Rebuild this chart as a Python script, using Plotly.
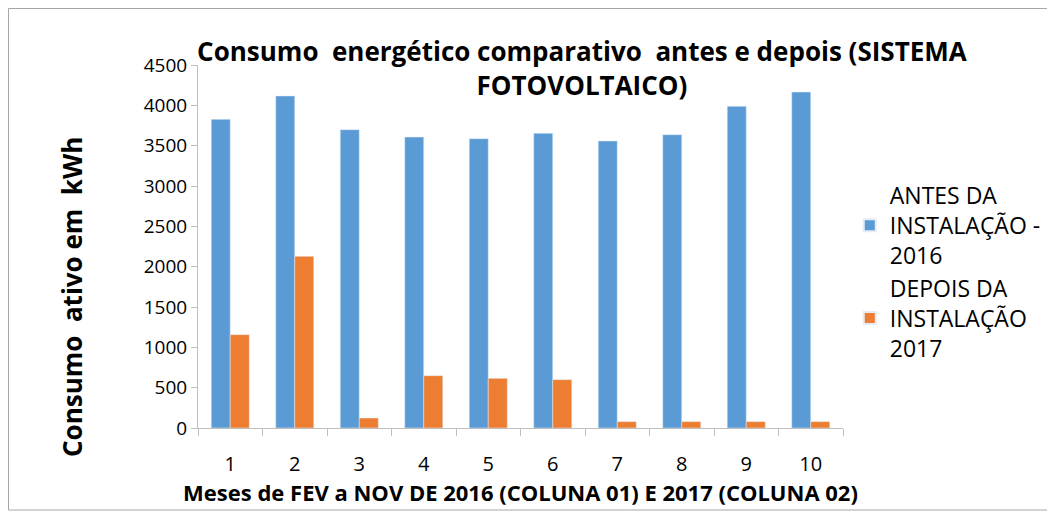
import plotly.graph_objects as go

meses = ["1", "2", "3", "4", "5", "6", "7", "8", "9", "10"]
antes_2016 = [3826, 4116, 3698, 3607, 3587, 3653, 3558, 3636, 3988, 4165]
depois_2017 = [1157, 2128, 124, 649, 616, 599, 79, 79, 79, 79]
y_ticks = [0, 500, 1000, 1500, 2000, 2500, 3000, 3500, 4000, 4500]

FONT = "Open Sans, sans-serif"

L, R, T, B = 190, 220, 57, 97
PW, PH = 1055 - L - R, 517 - T - B

fig = go.Figure()
fig.add_trace(go.Bar(x=meses, y=antes_2016, name="ANTES DA<br>INSTALAÇÃO -<br>2016",
                     marker=dict(color="#5B9BD5")))
fig.add_trace(go.Bar(x=meses, y=depois_2017, name="DEPOIS DA<br>INSTALAÇÃO<br>2017",
                     marker=dict(color="#ED7D31")))

fig.update_layout(
    width=1055, height=517,
    margin=dict(l=L, r=R, t=T, b=B),
    paper_bgcolor="white", plot_bgcolor="white",
    barmode="group", bargap=0.41, bargroupgap=0,
    font=dict(family=FONT, color="#000000"),
    title=dict(text="<b>Consumo  energético comparativo  antes e depois (SISTEMA<br>FOTOVOLTAICO)</b>",
               x=0.544, xanchor="center", y=0.897, yanchor="middle",
               font=dict(size=26, family=FONT)),
    xaxis=dict(showline=True, linecolor="#BFBFBF", linewidth=1,
               ticks="outside", tickcolor="#BFBFBF", ticklen=7,
               tickson="boundaries", showgrid=False, ticklabelstandoff=18,
               tickfont=dict(size=20, family=FONT),
               title=dict(text="<b>Meses de FEV a NOV DE 2016 (COLUNA 01) E 2017 (COLUNA 02)</b>",
                          font=dict(size=22, family=FONT), standoff=6)),
    yaxis=dict(range=[0, 4500], tickvals=y_ticks, showline=True, linecolor="#BFBFBF",
               linewidth=1, ticks="outside", tickcolor="#BFBFBF", ticklen=6,
               showgrid=False, zeroline=False,
               tickfont=dict(size=19, family=FONT)),
    legend=dict(x=1.0105, xanchor="left", y=0.43, yanchor="middle",
                font=dict(size=23, family=FONT), tracegroupgap=0,
                itemsizing="constant", traceorder="normal"),
    annotations=[dict(text="<b>Consumo  ativo em  kWh</b>", textangle=-90,
                      xref="paper", yref="paper", x=(64 - L) / PW, y=(T + PH - 289) / PH,
                      xanchor="center", yanchor="middle", showarrow=False,
                      font=dict(size=26, family=FONT))],
    shapes=[dict(type="rect", xref="paper", yref="paper",
                 x0=(0.5 - L) / PW, x1=(1042 - L) / PW,
                 y0=-(502 - (T + PH)) / PH, y1=1 + (T - 0.5) / PH,
                 line=dict(color="#A6A6A6", width=1), fillcolor="rgba(0,0,0,0)")],
)

fig.write_html("out.html")
